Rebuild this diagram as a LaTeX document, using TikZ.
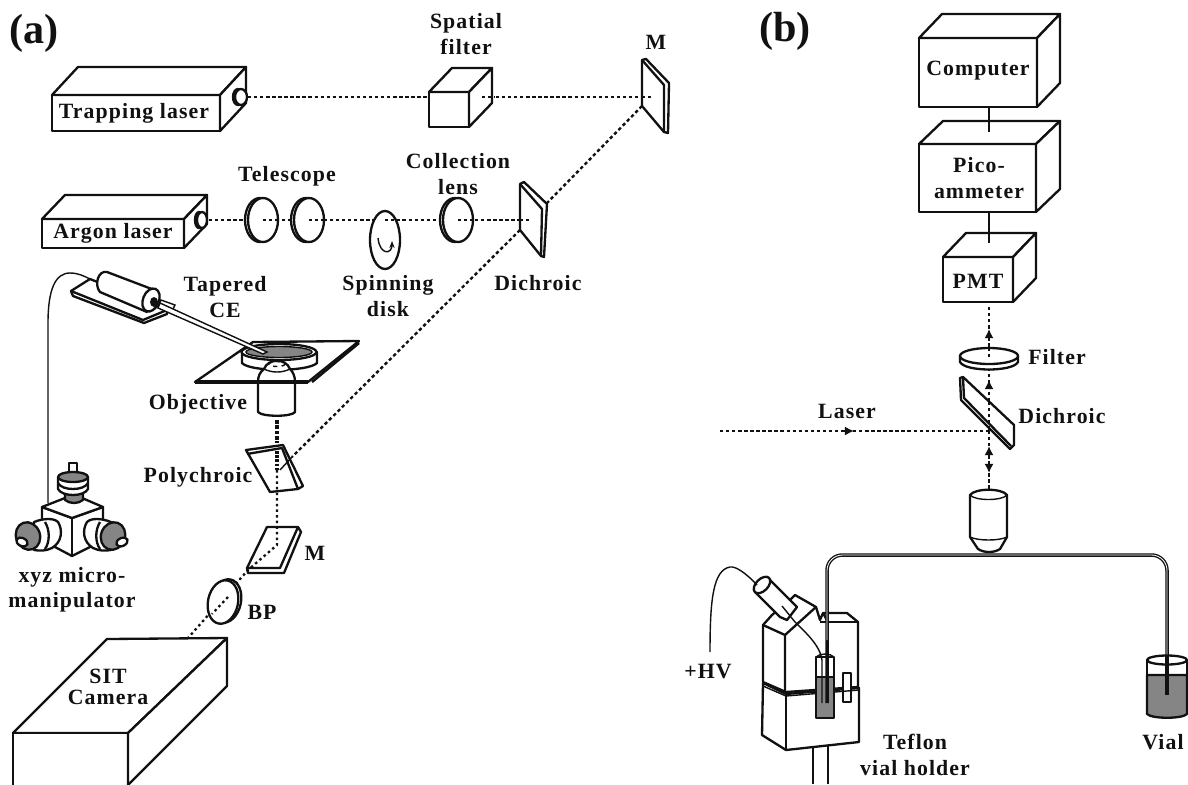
\documentclass[tikz,border=0pt]{standalone}
\usepackage{fontspec}
\usepackage{xcolor}
\usetikzlibrary{arrows.meta}
\newfontfamily\labelfont{Liberation Serif Bold}[LetterSpace=5]
\newfontfamily\panelfont{Liberation Serif Bold}
\definecolor{plateink}{HTML}{111111}
\definecolor{plategray}{HTML}{858585}

% front corners, then offset of the back face
\newcommand{\labbox}[6]{%
  \draw[outline,fill=white] (#1,#2) rectangle (#3,#4);
  \draw[outline,fill=white] (#1,#2) -- ++(#5,#6) -- (#3+#5,#2+#6) -- (#3,#2) -- cycle;
  \draw[outline,fill=white] (#3,#2) -- (#3+#5,#2+#6) -- (#3+#5,#4+#6) -- (#3,#4) -- cycle;
}
% lens seen at an angle, rim on the left
\newcommand{\lens}[4]{%
  \draw[outline,fill=white] (#1-3,#2) ellipse [x radius=#3, y radius=#4];
  \draw[outline,fill=white] (#1,#2) ellipse [x radius=#3, y radius=#4];
}

\begin{document}
\begin{tikzpicture}[
  x=0.025cm,
  y=-0.025cm,
  outline/.style={plateink, line width=1.65pt, line join=round},
  thinline/.style={plateink, line width=1pt},
  beam/.style={plateink, line width=1.7pt, dash pattern=on 2.4pt off 1.9pt},
  finebeam/.style={plateink, line width=1.6pt, dash pattern=on 1.8pt off 2.2pt},
  tip/.style={plateink, line width=1.5pt, -{Latex[length=6.5pt,width=6.5pt]}},
  lbl/.style={plateink, font=\labelfont\fontsize{15.5}{18}\selectfont, inner sep=0pt, align=center},
  panel/.style={plateink, font=\panelfont\fontsize{30}{32}\selectfont, inner sep=0pt}
]
  \useasboundingbox (0,0) rectangle (1188,784);
  \fill[white] (0,0) rectangle (1188,784);

  % panel (a): beams
  \coordinate (trapOut) at (248,97);
  \coordinate (topMirror) at (653,97);
  \coordinate (topMirrorOut) at (642,106);
  \coordinate (dichroicUp) at (547,203);
  \coordinate (argonOut) at (209,220);
  \coordinate (dichroicIn) at (532,220);
  \coordinate (dichroicDown) at (520,230);
  \coordinate (polyIn) at (292,457);
  \draw[beam] (trapOut) -- (topMirror);
  \draw[beam] (argonOut) -- (dichroicIn);

  \labbox{52}{95}{220}{131}{26}{-28}
  \draw[outline,fill=white] (238,97) ellipse [x radius=5, y radius=8];
  \draw[outline,fill=white] (241,97) ellipse [x radius=6, y radius=8];
  \labbox{42}{219}{184}{248}{23}{-24}
  \draw[outline,fill=white] (199,220) ellipse [x radius=4, y radius=8];
  \draw[outline,fill=white] (202,220) ellipse [x radius=5, y radius=8];
  \labbox{429}{92}{469}{127}{23}{-24}
  \draw[beam] (482,97) -- (495,97);

  \lens{263}{220}{15}{22}
  \lens{309}{220}{15}{22}
  \lens{458}{220}{15}{22}
  \foreach \lensX in {263,309,458} {
    \draw[beam] (\lensX,220) -- (\lensX+16,220);
  }
  \draw[outline,fill=white] (385,240) ellipse [x radius=15, y radius=29];
  \draw[beam] (385,220) -- (396,220);
  \draw[thinline,-{Stealth[length=5pt]}] (378,238) .. controls (380,256) and (392,254) .. (392,241);

  % mirrors
  \draw[outline,fill=white] (642,60) -- (646,59) -- (669,83) -- (668,133) -- (664,132) -- (642,106) -- cycle;
  \draw[outline] (642,60) -- (664,85) -- (664,132);
  \draw[beam] (642,97) -- (653,97);
  \draw[outline,fill=white] (520,184) -- (524,182) -- (547,204) -- (544,257) -- (541,256) -- (520,230) -- cycle;
  \draw[outline] (520,184) -- (542,209) -- (541,256);
  \draw[beam] (520,220) -- (532,220);
  \draw[beam] (topMirrorOut) -- (dichroicUp);
  \draw[beam] (dichroicDown) -- (polyIn);

  % tapered capillary and its holder
  \draw[thinline] (48,503) -- (48,323) .. controls (48,290) and (55,273) .. (70,273) .. controls (78,273) and (84,276) .. (90,279);
  \draw[outline,fill=white] (71,291) -- (90,279) -- (167,310) -- (167,314) -- (144,323) -- (73,296) -- cycle;
  \draw[outline] (71,291) -- (143,320) -- (167,310);
  \draw[outline,fill=white] (107,272) -- (157,291) -- (147,312) -- (100,292) .. controls (94,285) and (98,270) .. (107,272) -- cycle;
  \draw[outline,fill=white,rotate around={-22:(151,300)}] (151,300) ellipse [x radius=8, y radius=12];
  \fill[plateink] (154,302) ellipse [x radius=4, y radius=5];

  % stage, dish, objective
  \draw[outline,fill=white] (253,342) -- (359,341) -- (308,382) -- (195,382) -- cycle;
  \draw[plateink,line width=1.8pt] (312,382) -- (359,343);
  \draw[outline,fill=white] (242,352) -- (242,363) .. controls (250,372) and (308,372) .. (317,363) -- (317,352) -- cycle;
  \draw[outline,fill=white] (279,352) ellipse [x radius=37.5, y radius=8];
  \draw[thinline,fill=plategray] (279,352) ellipse [x radius=33, y radius=5.5];
  \draw[thinline,fill=white] (161,300) -- (175,305) -- (172,311) -- (158,306) -- cycle;
  \draw[thinline,fill=white] (160,303) -- (267,352) -- (263,354) -- (158,308) -- cycle;
  \draw[outline,fill=white] (258,382) .. controls (258,376) and (260,372) .. (264,369) .. controls (268,358) and (286,358) .. (290,369) .. controls (293,372) and (295,376) .. (295,382) -- (295,412) .. controls (292,417) and (262,417) .. (258,412) -- cycle;
  \draw[thinline,dashed] (277,364) ellipse [x radius=8, y radius=2.5];
  \draw[thinline] (264,369) .. controls (272,373) and (282,373) .. (290,369);
  \draw[plateink,line width=2.6pt] (195,382) -- (308,382);

  % polychroic, lower mirror, band pass
  \draw[outline,fill=white] (246,450) -- (283,445) -- (303,486) -- (298,489) -- (270,492) -- cycle;
  \draw[outline] (247,454) -- (282,448) -- (298,489);
  \coordinate (objBeam) at (277,420);
  \coordinate (polyTop) at (277,443);
  \coordinate (polyMid) at (277,470);
  \coordinate (lowMirror) at (277,545);
  \coordinate (lowMirrorOut) at (248,570);
  \coordinate (cameraIn) at (188,638);
  \draw[plateink,line width=3pt,dash pattern=on 2.6pt off 1.2pt] (objBeam) -- (polyTop);
  \draw[plateink,line width=2.2pt,dash pattern=on 2pt off 1pt] (277,451) -- (polyMid);
  \draw[thinline] (polyIn) -- (280,470);
  \draw[outline,fill=white] (267,527) -- (298,527) -- (301,532) -- (284,573) -- (248,573) -- (247,568) -- cycle;
  \draw[outline] (298,527) -- (280,568) -- (247,568);
  \draw[finebeam] (polyMid) -- (lowMirror) -- (lowMirrorOut) -- (cameraIn);
  \draw[outline,fill=white,rotate around={-12:(226,601)}] (226,601) ellipse [x radius=15, y radius=22];
  \draw[outline,fill=white,rotate around={-12:(223,602)}] (223,602) ellipse [x radius=15, y radius=22];
  \draw[finebeam] (228,597) -- (212,614);

  % manipulator
  \draw[outline,fill=white] (42,507) -- (42,525) -- (55,547) -- (72,556) -- (90,547) -- (103,525) -- (103,507) -- (72,518) -- cycle;
  \draw[outline,fill=white] (42,507) -- (65,498) -- (82,498) -- (103,507) -- (72,518) -- cycle;
  \draw[outline] (72,518) -- (72,556);
  \draw[outline,fill=white] (69,463) rectangle (77,474);
  \draw[outline,fill=plategray] (65,492) -- (65,500) .. controls (70,504) and (78,504) .. (83,500) -- (83,492) -- cycle;
  \draw[outline,fill=white] (58,477) -- (58,489) .. controls (62,497) and (84,497) .. (88,489) -- (88,477) -- cycle;
  \draw[outline] (58,483) .. controls (62,491) and (84,491) .. (88,483);
  \draw[outline,fill=plategray] (73,477) ellipse [x radius=15, y radius=5];
  \draw[outline,fill=white] (34,522) .. controls (44,518) and (54,518) .. (58,522) .. controls (63,530) and (62,542) .. (52,548) .. controls (46,551) and (40,551) .. (34,550) -- cycle;
  \draw[outline] (45,522) .. controls (50,530) and (50,542) .. (45,549);
  \draw[outline,fill=plategray,rotate around={20:(28,536)}] (28,536) ellipse [x radius=12, y radius=14];
  \draw[outline,fill=white,rotate around={-25:(22,542)}] (22,542) ellipse [x radius=6, y radius=4];
  \draw[outline,fill=white] (111,522) .. controls (101,518) and (91,518) .. (87,522) .. controls (82,530) and (83,542) .. (93,548) .. controls (99,551) and (105,551) .. (111,550) -- cycle;
  \draw[outline] (100,522) .. controls (95,530) and (95,542) .. (100,549);
  \draw[outline,fill=plategray,rotate around={-20:(113,536)}] (113,536) ellipse [x radius=12, y radius=14];
  \draw[outline,fill=white,rotate around={25:(122,542)}] (122,542) ellipse [x radius=6, y radius=4];

  % camera
  \draw[outline,fill=white] (13,733) -- (107,639) -- (227,638) -- (128,733) -- cycle;
  \draw[outline,fill=white] (13,733) rectangle (128,790);
  \draw[outline,fill=white] (128,733) -- (227,638) -- (227,686) -- (128,785) -- cycle;

  % panel (a): text
  \node[panel] (panelA) at (34,33) {(a)};
  \node[lbl] (trapLbl) at (134,113) {Trapping laser};
  \node[lbl] (argonLbl) at (113,233) {Argon laser};
  \node[lbl] (filterLbl) at (466,34) {Spatial\\filter};
  \node[lbl] (mirrorLbl) at (656,42) {M};
  \node[lbl] (telescopeLbl) at (287,176) {Telescope};
  \node[lbl] (collectLbl) at (458,174) {Collection\\lens};
  \node[lbl] (spinLbl) at (388,296) {Spinning\\disk};
  \node[lbl] (dichroicLbl) at (538,283) {Dichroic};
  \node[lbl] (taperLbl) at (225,297) {Tapered\\CE};
  \node[lbl] (objectiveLbl) at (198,404) {Objective};
  \node[lbl] (polyLbl) at (198,477) {Polychroic};
  \node[lbl] (xyzLbl) at (72,590) {xyz micro-\\manipulator};
  \node[lbl] (lowMirrorLbl) at (315,553) {M};
  \node[lbl] (bpLbl) at (262,612) {BP};
  \node[lbl,font=\labelfont\fontsize{15.5}{15}\selectfont] (sitLbl) at (108,687) {SIT\\Camera};

  % panel (b): detection column
  \labbox{919}{38}{1037}{107}{23}{-24}
  \labbox{919}{144}{1036}{212}{24}{-23}
  \labbox{943}{257}{1013}{302}{23}{-24}
  \draw[thinline] (989,107) -- (989,132);
  \draw[thinline] (989,212) -- (989,243);
  \coordinate (pmtIn) at (989,307);
  \coordinate (splitter) at (989,431);
  \coordinate (laserIn) at (720,431);
  \coordinate (objTop) at (989,490);
  \draw[beam] (pmtIn) -- (splitter);
  \draw[beam] (laserIn) -- (splitter);
  \draw[beam] (splitter) -- (objTop);
  \draw[tip] (989,336) -- (989,329);
  \draw[tip] (842,431) -- (854,431);
  \draw[outline,fill=white] (960,356) -- (960,362) .. controls (965,372) and (1013,372) .. (1018,362) -- (1018,356) -- cycle;
  \draw[outline,fill=white] (989,356) ellipse [x radius=29, y radius=8];
  \draw[beam] (989,348) -- (989,358);
  \draw[tip] (989,388) -- (989,380);
  \draw[outline,fill=white] (963,377) -- (960,378) -- (961,400) -- (1010,449) -- (1014,445) -- (1014,425) -- cycle;
  \draw[outline] (963,377) -- (964,398) -- (1011,446);
  \draw[beam] (989,402) -- (989,431);
  \draw[tip] (989,454) -- (989,446);
  \draw[tip] (989,464) -- (989,473);

  % panel (b): objective and capillary
  \draw[outline,fill=white] (970,495) -- (970,537) -- (978,549) .. controls (984,553) and (994,553) .. (1000,549) -- (1007,537) -- (1007,495) .. controls (1002,488) and (975,488) .. (970,495) -- cycle;
  \draw[thinline] (970,495) .. controls (975,501) and (1002,501) .. (1007,495);
  \draw[thinline] (970,537) .. controls (978,541) and (999,541) .. (1007,537);
  \coordinate (capA) at (827,703);
  \coordinate (capB) at (1167,695);

  % holder
  \draw[outline,fill=white] (763,683) -- (762,735) -- (786,750) -- (859,742) -- (859,688) -- (786,694) -- cycle;
  \draw[outline] (786,694) -- (786,750);
  \draw[outline] (813,747) -- (813,784);
  \draw[outline] (828,745) -- (828,784);
  \draw[outline,fill=white] (763,625) -- (772,615) -- (790,600) -- (795,595) -- (816,607) -- (820,620) -- (823,613) -- (847,613) -- (858,622) -- (858,687) -- (786,692) -- (763,682) -- cycle;
  \draw[outline] (785,635) -- (816,607);
  \draw[outline] (763,625) -- (785,635) -- (785,692);
  \draw[outline] (820,622) -- (858,622);
  \draw[outline] (823,613) -- (828,622);
  \draw[outline,fill=white] (843,673) rectangle (851,702);
  \draw[thinline] (763,686) -- (786,696) -- (859,690);
  \draw[outline,fill=plategray] (816,677) rectangle (834,718);
  \draw[outline,fill=white] (816,657) rectangle (834,677);
  \draw[thinline] (816,657) .. controls (820,653) and (830,653) .. (834,657);
  \draw[outline,fill=white] (755,592) -- (780,617) -- (787,620) -- (797,607) -- (768,578) -- cycle;
  \draw[outline,fill=white,rotate around={-45:(762,585)}] (762,585) ellipse [x radius=6, y radius=10];
  \draw[thinline] (757,585) .. controls (745,572) and (735,566) .. (730,567) .. controls (713,570) and (710,600) .. (710,652);
  \draw[thinline] (782,606) -- (795,622) .. controls (805,632) and (820,645) .. (822,660) -- (822,703);

  % capillary
  \draw[plateink,line width=2.5pt,line join=round,rounded corners=11pt] (capA) -- (827,555) -- (1167,555) -- (capB);
  \draw[white,line width=0.6pt,rounded corners=11pt] (827,640) -- (827,555) -- (1167,555) -- (1167,660);

  % vial
  \draw[outline,fill=plategray] (1147,675) -- (1147,714) .. controls (1152,719) and (1182,719) .. (1187,714) -- (1187,675) -- cycle;
  \draw[outline] (1147,660) -- (1147,675);
  \draw[outline] (1187,660) -- (1187,675);
  \draw[outline] (1167,660) ellipse [x radius=20, y radius=4.5];
  \draw[plateink,line width=2.4pt] (1167,655) -- (capB);

  % panel (b): text
  \node[panel] (panelB) at (785,31) {(b)};
  \node[lbl] (computerLbl) at (978,71) {Computer};
  \node[lbl] (picoLbl) at (979,178) {Pico-\\ammeter};
  \node[lbl] (pmtLbl) at (978,281) {PMT};
  \node[lbl] (filterBLbl) at (1057,357) {Filter};
  \node[lbl] (dichroicBLbl) at (1062,416) {Dichroic};
  \node[lbl] (laserLbl) at (847,411) {Laser};
  \node[lbl] (hvLbl) at (708,672) {+HV};
  \node[lbl] (teflonLbl) at (915,755) {Teflon\\vial holder};
  \node[lbl] (vialLbl) at (1163,742) {Vial};
\end{tikzpicture}
\end{document}
